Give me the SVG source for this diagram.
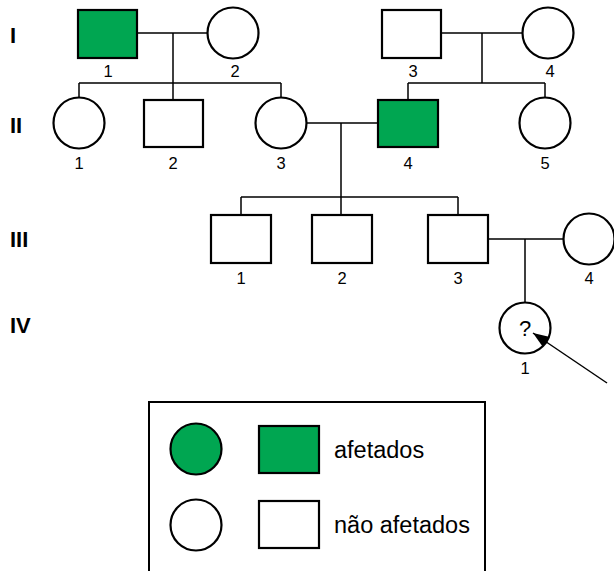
<svg xmlns="http://www.w3.org/2000/svg" width="614" height="571" viewBox="0 0 614 571">
<style>
.s{fill:#fff;stroke:#000;stroke-width:2.2}
.a{fill:#00a651;stroke:#000;stroke-width:2.2}
.l{stroke:#000;stroke-width:1.5;fill:none}
.n{font-family:"Liberation Sans",Arial,sans-serif;font-size:16.5px;text-anchor:middle;fill:#000}
.q{font-family:"Liberation Sans",Arial,sans-serif;font-size:22px;text-anchor:middle;fill:#000}
.g{font-family:"Liberation Sans",Arial,sans-serif;font-size:22px;font-weight:bold;fill:#000}
.t{font-family:"Liberation Sans",Arial,sans-serif;font-size:23.5px;fill:#000}
</style>
<defs>
<marker id="ah" viewBox="0 0 16 12" refX="16" refY="6" markerWidth="16" markerHeight="12" markerUnits="userSpaceOnUse" orient="auto">
<path d="M0,0 L16,6 L0,12 z" fill="#000"/>
</marker>
</defs>
<rect width="614" height="571" fill="#fff"/>
<g id="generations">
<text class="g" x="10" y="43">I</text>
<text class="g" x="10" y="133">II</text>
<text class="g" x="10" y="247">III</text>
<text class="g" x="10" y="333">IV</text>
</g>
<g id="I-1"><rect class="a" x="78" y="10" width="59" height="48"/><text class="n" x="108" y="77">1</text></g>
<g id="I-2"><circle class="s" cx="233" cy="33" r="25.5"/><text class="n" x="235" y="77">2</text></g>
<g id="I-3"><rect class="s" x="382" y="10" width="59" height="48"/><text class="n" x="413" y="77">3</text></g>
<g id="I-4"><circle class="s" cx="548" cy="33" r="25.5"/><text class="n" x="550" y="77">4</text></g>
<g id="II-1"><circle class="s" cx="79" cy="123" r="25.5"/><text class="n" x="79" y="169">1</text></g>
<g id="II-2"><rect class="s" x="144" y="100" width="59" height="47"/><text class="n" x="173" y="169">2</text></g>
<g id="II-3"><circle class="s" cx="281" cy="123" r="25.5"/><text class="n" x="281" y="169">3</text></g>
<g id="II-4"><rect class="a" x="378" y="100" width="60" height="47"/><text class="n" x="408" y="169">4</text></g>
<g id="II-5"><circle class="s" cx="545" cy="123" r="25.5"/><text class="n" x="545" y="169">5</text></g>
<g id="III-1"><rect class="s" x="211" y="215" width="60" height="48"/><text class="n" x="241" y="284">1</text></g>
<g id="III-2"><rect class="s" x="312" y="215" width="60" height="48"/><text class="n" x="342" y="284">2</text></g>
<g id="III-3"><rect class="s" x="428" y="215" width="60" height="48"/><text class="n" x="458" y="284">3</text></g>
<g id="III-4"><circle class="s" cx="589" cy="239" r="25.5"/><text class="n" x="589" y="284">4</text></g>
<g id="IV-1"><circle class="s" cx="525" cy="328" r="25.5"/><text class="q" x="525" y="336">?</text><text class="n" x="525" y="374">1</text></g>
<g id="legend">
<rect x="149" y="402" width="336" height="175" fill="#fff" stroke="#000" stroke-width="2"/>
<circle class="a" cx="196" cy="449" r="25.5"/>
<rect class="a" x="259" y="426" width="60" height="47"/>
<text class="t" x="334" y="458">afetados</text>
<circle class="s" cx="196" cy="525" r="25.5"/>
<rect class="s" x="259" y="501" width="60" height="47"/>
<text class="t" x="334" y="533">não afetados</text>
</g>
<g id="connectors">
<path class="l" d="M137,33 H207 M173,33 V83 M79,83 H281 M79,83 V98 M173,83 V100 M281,83 V98"/>
<path class="l" d="M441,33 H522 M482,33 V83 M408,83 H545 M408,83 V100 M545,83 V97"/>
<path class="l" d="M306,123 H378 M341,123 V197 M241,197 H458 M241,197 V215 M341,197 V215 M458,197 V215"/>
<path class="l" d="M488,239 H563 M525,239 V302"/>
<line class="l" x1="607" y1="383" x2="533" y2="333" marker-end="url(#ah)"/>
</g>
</svg>
